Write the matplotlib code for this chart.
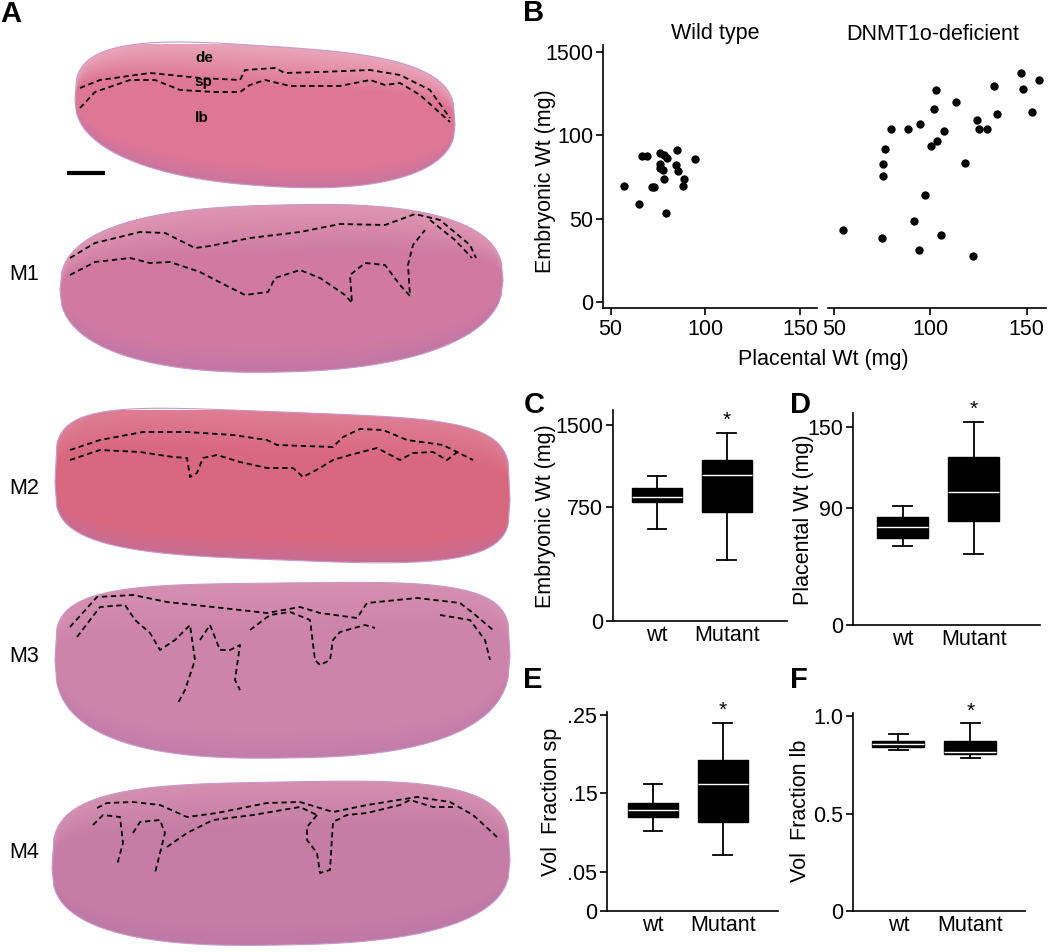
import numpy as np
import matplotlib.pyplot as plt
from matplotlib.path import Path
from matplotlib.patches import PathPatch

plt.rcParams['font.family'] = ['Liberation Sans', 'DejaVu Sans']
plt.rcParams['axes.linewidth'] = 1.2

W, H = 1050, 952

# ---- panel B data (placental wt, embryonic wt) ----
wt_placental = [57.1, 65.2, 66.4, 69.3, 71.7, 73.0, 76.0, 76.0, 76.1, 77.7,
                78.1, 78.3, 79.7, 79.5, 85.0, 84.5, 85.7, 89.0, 88.3, 94.5]
wt_embryonic = [69.9, 59.0, 87.8, 87.8, 69.1, 69.1, 89.4, 82.5, 80.3, 79.3,
                88.2, 73.7, 86.5, 53.4, 91.0, 81.9, 78.5, 73.9, 69.9, 85.5]
mut_placental = [54.8, 74.7, 75.4, 75.4, 76.3, 79.7, 88.5, 91.2, 93.8, 94.7,
                 97.3, 100.2, 101.6, 102.8, 103.5, 105.7, 107.1, 113.3, 118.0, 122.1,
                 124.0, 125.4, 129.5, 133.0, 134.3, 146.8, 148.1, 152.8, 156.4]
mut_embryonic = [43.2, 38.6, 75.5, 82.5, 91.8, 103.8, 103.8, 48.6, 31.5, 106.8,
                 64.3, 93.4, 115.9, 127.1, 96.4, 40.2, 102.8, 120.1, 83.3, 27.5,
                 109.0, 103.8, 103.8, 129.5, 112.9, 137.3, 127.9, 113.7, 133.3]
b_yticks = [0, 50, 100, 150]
b_yticklabels = ['0', '50', '100', '1500']
b_xticks = [50, 100, 150]

# ---- box plot data: [whislo, q1, med, q3, whishi] for wt, Mutant ----
groups = ['wt', 'Mutant']
emb_box = [[603, 790, 836, 919, 1033], [399, 713, 1042, 1177, 1432]]
plac_box = [[60.3, 66.4, 75.4, 82.6, 91.3], [54.4, 80.0, 102.0, 127.8, 154.3]]
sp_box = [[0.1013, 0.1199, 0.1292, 0.1373, 0.1619], [0.0708, 0.1136, 0.1619, 0.1924, 0.2394]]
lb_box = [[0.825, 0.840, 0.858, 0.875, 0.909], [0.786, 0.804, 0.818, 0.871, 0.964]]

TICK_FS = 15.5
LABEL_FS = 15.5

fig = plt.figure(figsize=(10.5, 9.52), dpi=100)


def axes_px(x0, y0, x1, y1):
    return fig.add_axes([x0 / W, 1 - y1 / H, (x1 - x0) / W, (y1 - y0) / H])


def text_px(x, y, s, **kw):
    fig.text(x / W, 1 - y / H, s, **kw)


def piecewise_scale(ax, vals, px):
    vals = np.asarray(vals, float)
    px = np.asarray(px, float)
    ax.set_yscale('function', functions=(lambda v: np.interp(v, vals, px),
                                         lambda p: np.interp(p, px, vals)))


def style_axis(ax):
    for s in ['top', 'right']:
        ax.spines[s].set_visible(False)
    ax.tick_params(axis='y', direction='out', length=5, width=1.2, labelsize=TICK_FS, pad=2)
    ax.tick_params(axis='x', length=0, labelsize=TICK_FS, pad=3)


def box_panel(rect, data, xlim, ylim, yticks, yticklabels, scale=None):
    ax = axes_px(*rect)
    if scale is not None:
        piecewise_scale(ax, *scale)
    stats = [dict(whislo=d[0], q1=d[1], med=d[2], q3=d[3], whishi=d[4], label=g)
             for d, g in zip(data, groups)]
    ax.bxp(stats, positions=[0, 1], widths=0.72, patch_artist=True, showfliers=False,
           capwidths=0.27,
           boxprops=dict(facecolor='black', edgecolor='black', linewidth=1.0),
           medianprops=dict(color='white', linewidth=1.0),
           whiskerprops=dict(color='black', linewidth=1.3),
           capprops=dict(color='black', linewidth=1.3))
    ax.annotate('*', (1, data[1][4]), xytext=(0, 2), textcoords='offset points',
                ha='center', va='bottom', fontsize=15)
    ax.set_xlim(*xlim)
    ax.set_ylim(*ylim)
    ax.set_yticks(yticks)
    ax.set_yticklabels(yticklabels)
    ax.set_xticks([0, 1])
    ax.set_xticklabels(groups)
    style_axis(ax)
    return ax


# ---------------- panel B ----------------
axl = axes_px(603, 45, 817, 308)
axl.scatter(wt_placental, wt_embryonic, s=36, color='black', linewidths=0)
axl.set_xlim(46, 159)
axl.set_ylim(-3.4, 154)
axl.set_xticks(b_xticks)
axl.set_yticks(b_yticks)
axl.set_yticklabels(b_yticklabels)
style_axis(axl)
axl.tick_params(axis='x', direction='out', length=5, width=1.2, pad=3)

axr = axes_px(828, 45, 1046, 308)
axr.scatter(mut_placental, mut_embryonic, s=36, color='black', linewidths=0)
axr.set_xlim(46.8, 160)
axr.set_ylim(-3.4, 154)
axr.set_xticks(b_xticks)
axr.set_yticks([])
for s in ['top', 'right', 'left']:
    axr.spines[s].set_visible(False)
axr.tick_params(axis='x', direction='out', length=5, width=1.2, labelsize=TICK_FS, pad=3)

text_px(715, 34, 'Wild type', ha='center', va='center', fontsize=LABEL_FS)
text_px(933, 34, 'DNMT1o-deficient', ha='center', va='center', fontsize=LABEL_FS)
text_px(546, 181, 'Embryonic Wt (mg)', rotation=90, ha='center', va='center', fontsize=LABEL_FS)
text_px(823, 360, 'Placental Wt (mg)', ha='center', va='center', fontsize=LABEL_FS)

# ---------------- panels C-F ----------------
box_panel((613, 410, 787, 621), emb_box, (-0.63, 1.86), (0, 1641),
          [0, 750, 1500], ['0', '750', '1500'],
          scale=([0, 750, 1500, 3000], [0, 342, 586, 1074]))
box_panel((853, 413, 1040, 625), plac_box, (-0.70, 1.93), (0, 160.7),
          [0, 90, 150], ['0', '90', '150'],
          scale=([0, 90, 150, 300], [0, 351, 591, 1191]))
box_panel((607, 712, 778, 911), sp_box, (-0.66, 1.79), (0, 0.2534),
          [0, 0.05, 0.15, 0.25], ['0', '.05', '.15', '.25'])
box_panel((853, 713, 1025, 911), lb_box, (-0.63, 1.76), (0, 1.017),
          [0, 0.5, 1.0], ['0', '0.5', '1.0'])

text_px(546, 516, 'Embryonic Wt (mg)', rotation=90, ha='center', va='center', fontsize=LABEL_FS)
text_px(803, 520, 'Placental Wt (mg)', rotation=90, ha='center', va='center', fontsize=LABEL_FS)
text_px(552, 802, 'Vol  Fraction sp', rotation=90, ha='center', va='center', fontsize=LABEL_FS)
text_px(800, 811, 'Vol  Fraction lb', rotation=90, ha='center', va='center', fontsize=LABEL_FS)

# panel letters
for lab, x, y in [('A', 11, 14), ('B', 534, 13), ('C', 534, 405), ('D', 801, 405),
                  ('E', 533, 680), ('F', 799, 680)]:
    text_px(x, y, lab, ha='center', va='center', fontsize=21, fontweight='bold')

# ---------------- panel A: schematic tissue sections ----------------
axa = fig.add_axes([0, 0, 520 / W, 1])
axa.set_xlim(0, 520)
axa.set_ylim(H, 0)
axa.axis('off')

sections = [
    dict(x=(75, 455), top=46, bot=186, tips=(100, 125), p=(3.2, 2.3), col=(222, 118, 150), de=0.8),
    dict(x=(60, 503), top=205, bot=372, tips=(290, 280), p=(2.6, 2.3), col=(208, 122, 162), de=0.5),
    dict(x=(55, 510), top=412, bot=560, tips=(482, 500), p=(4.5, 3.5), col=(216, 104, 128), de=0.3),
    dict(x=(55, 510), top=583, bot=758, tips=(660, 655), p=(4.0, 2.6), col=(205, 132, 170), de=0.25),
    dict(x=(52, 510), top=782, bot=945, tips=(868, 860), p=(3.5, 2.6), col=(198, 125, 165), de=0.35),
]

for sec in sections:
    x0, x1 = sec['x']
    t = np.linspace(-1, 1, 240)
    xs = (x0 + x1) / 2 + (x1 - x0) / 2 * t
    mid = sec['tips'][0] + (sec['tips'][1] - sec['tips'][0]) * (t + 1) / 2
    ft = (1 - np.abs(t) ** sec['p'][0]) ** (1 / sec['p'][0])
    fb = (1 - np.abs(t) ** sec['p'][1]) ** (1 / sec['p'][1])
    mid_c = np.interp(0, t, mid)
    top = mid - (mid_c - sec['top']) * ft
    bot = mid + (sec['bot'] - mid_c) * fb
    verts = np.vstack([np.column_stack([xs, top]), np.column_stack([xs[::-1], bot[::-1]])])
    patch = PathPatch(Path(verts, closed=True), facecolor='none', edgecolor=(0.78, 0.6, 0.78),
                      linewidth=0.8)
    axa.add_patch(patch)

    gx = np.arange(x0, x1 + 1, 1.0)
    gy = np.arange(sec['top'] - 2, sec['bot'] + 2, 1.0)
    GX, GY = np.meshgrid(gx, gy)
    tt = np.interp(GX, xs, top)
    bb = np.interp(GX, xs, bot)
    r = np.clip((GY - tt) / np.maximum(bb - tt, 1), 0, 1)
    base = np.array(sec['col']) / 255
    light = np.array([236, 178, 196]) / 255
    purple = np.array([178, 115, 170]) / 255
    a = (np.clip(1 - r / 0.28, 0, 1) * sec['de'])[..., None]
    b = (np.clip((r - 0.85) / 0.15, 0, 1) * 0.45)[..., None]
    img = base * (1 - a) + light * a
    img = img * (1 - b) + purple * b
    im = axa.imshow(img, extent=(x0, x1 + 1, gy[-1] + 1, gy[0]), origin='upper',
                    interpolation='bilinear', aspect='auto')
    im.set_clip_path(patch)

dashes = [
    # wild type
    [(80, 88), (100, 80), (150, 73), (200, 78), (240, 80), (245, 70), (275, 68), (285, 73),
     (320, 72), (370, 70), (400, 75), (430, 90), (450, 118)],
    [(80, 108), (95, 92), (130, 80), (155, 80), (180, 90), (215, 92), (240, 92), (250, 85),
     (265, 80), (290, 86), (340, 86), (370, 80), (385, 85), (400, 83), (420, 95), (450, 122)],
    # M1
    [(70, 258), (95, 243), (140, 232), (165, 233), (195, 248), (210, 246), (250, 238), (300, 232),
     (340, 224), (385, 225), (415, 214), (440, 220), (470, 245), (476, 258)],
    [(70, 275), (95, 262), (130, 258), (150, 263), (170, 262), (200, 272), (225, 285), (245, 295),
     (268, 292), (275, 278), (300, 270), (320, 278), (345, 295), (352, 303), (350, 275), (365, 263),
     (385, 265), (400, 285), (410, 296), (408, 265), (413, 245), (425, 230)],
    [(430, 220), (455, 240), (472, 258)],
    # M2
    [(70, 450), (100, 440), (143, 432), (187, 432), (233, 435), (267, 440), (277, 445), (333, 447),
     (343, 437), (360, 429), (383, 430), (407, 440), (443, 445), (473, 460)],
    [(70, 460), (100, 450), (140, 452), (173, 457), (187, 458), (190, 477), (197, 473), (203, 458),
     (217, 455), (240, 462), (267, 468), (293, 468), (303, 477), (320, 468), (333, 460), (350, 455),
     (377, 448), (400, 460), (413, 453), (433, 452), (447, 460), (460, 450)],
    # M3
    [(70, 627), (97, 597), (133, 595), (167, 602), (213, 607), (267, 613), (300, 607), (320, 613),
     (357, 618), (367, 603), (417, 598), (460, 603), (473, 613), (493, 630)],
    [(77, 637), (100, 607), (125, 605), (135, 620), (150, 633), (160, 650), (175, 640), (190, 625),
     (195, 660), (185, 690), (178, 703)],
    [(200, 640), (210, 625), (220, 650), (230, 650), (240, 645), (235, 680), (240, 690)],
    [(250, 630), (270, 615), (290, 612), (310, 620), (315, 660), (320, 665), (330, 660), (333, 640),
     (340, 632), (365, 625), (375, 628)],
    [(440, 615), (470, 620), (485, 640), (490, 660)],
    # M4
    [(97, 808), (107, 803), (133, 802), (160, 805), (187, 817), (217, 813), (267, 803), (300, 802),
     (333, 812), (367, 805), (417, 797), (450, 802), (473, 815), (497, 837)],
    [(93, 825), (103, 815), (120, 817), (123, 843), (117, 865)],
    [(133, 833), (140, 822), (160, 820), (165, 833), (160, 853), (155, 873)],
    [(167, 847), (187, 833), (213, 820), (253, 815), (300, 807), (317, 815)],
    [(317, 815), (307, 827), (307, 840), (317, 853), (320, 873), (330, 870), (332, 837), (333, 822),
     (347, 815), (367, 813), (400, 805), (410, 800), (433, 807), (453, 807)],
]
for line in dashes:
    xy = np.array(line)
    axa.plot(xy[:, 0], xy[:, 1], color='black', linewidth=1.3, linestyle=(0, (3, 2)))

axa.plot([67, 105], [173, 173], color='black', linewidth=3, solid_capstyle='butt')
for s, x, y in [('de', 204, 58), ('sp', 203, 82), ('lb', 202, 118)]:
    axa.text(x, y, s, ha='center', va='center', fontsize=11, fontweight='bold')
for s, y in [('M1', 274), ('M2', 488), ('M3', 657), ('M4', 853)]:
    axa.text(24, y, s, ha='center', va='center', fontsize=15.5)

fig.savefig('out.png', dpi=100)
